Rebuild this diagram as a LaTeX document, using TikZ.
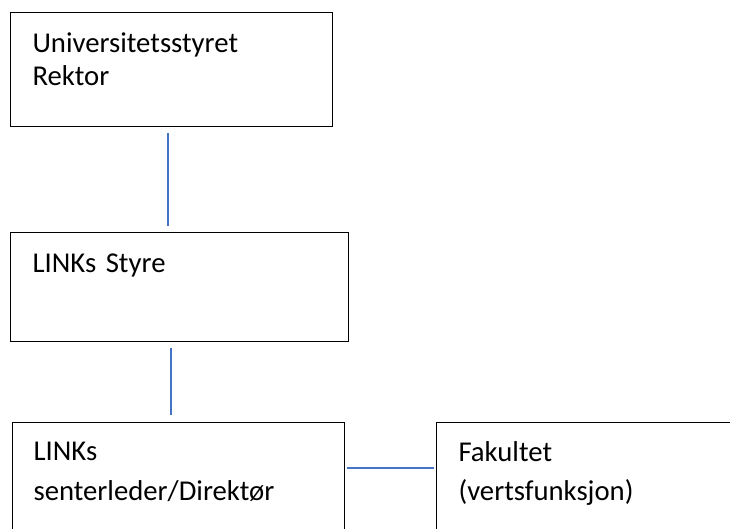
\documentclass[tikz,border=0pt]{standalone}
\usepackage{fontspec}
\setmainfont{Carlito}
\usetikzlibrary{positioning}
\definecolor{linkblue}{HTML}{4472C4}

\begin{document}
\begin{tikzpicture}
    [x=1pt, y=-1pt, box/.style={draw, line width=1.1pt, anchor=north west, align=left, inner xsep=22pt, inner ysep=0pt, text height=40pt, font=\fontsize{28.7}{33}\selectfont}, link/.style={draw=linkblue, line width=1.5pt}]
    \useasboundingbox (0,0) rectangle (730,528);
    \clip (0,0) rectangle (730,528);
    \node[box, text width=278pt, text depth=74pt] (univ) at (10,12) {Universitetsstyret\\Rektor};
    \node[box, text width=294pt, text depth=69pt] (styre) at (10,232) {LINKs Styre};
    \node[box, text width=290pt, text depth=100pt, inner xsep=21pt, font=\fontsize{28.7}{40}\selectfont, text height=38pt] (dir) at (12,422) {LINKs\\senterleder/Direktør};
    \node[box, text width=290pt, text depth=100pt, font=\fontsize{28.7}{39}\selectfont, text height=39pt] (fak) at (436,422) {Fakultet\\(vertsfunksjon)};
    \draw[link, shorten <=6pt, shorten >=6pt] ([xshift=-3.5pt]univ.south) -- ([xshift=-3.5pt]univ.south |- styre.north);
    \draw[link, shorten <=6pt, shorten >=7pt] ([xshift=-8.5pt]styre.south) -- ([xshift=-8.5pt]styre.south |- dir.north);
    \draw[link, shorten <=2pt, shorten >=2pt] ([yshift=-46pt]dir.north east) -- ([yshift=-46pt]fak.north west);
\end{tikzpicture}
\end{document}
